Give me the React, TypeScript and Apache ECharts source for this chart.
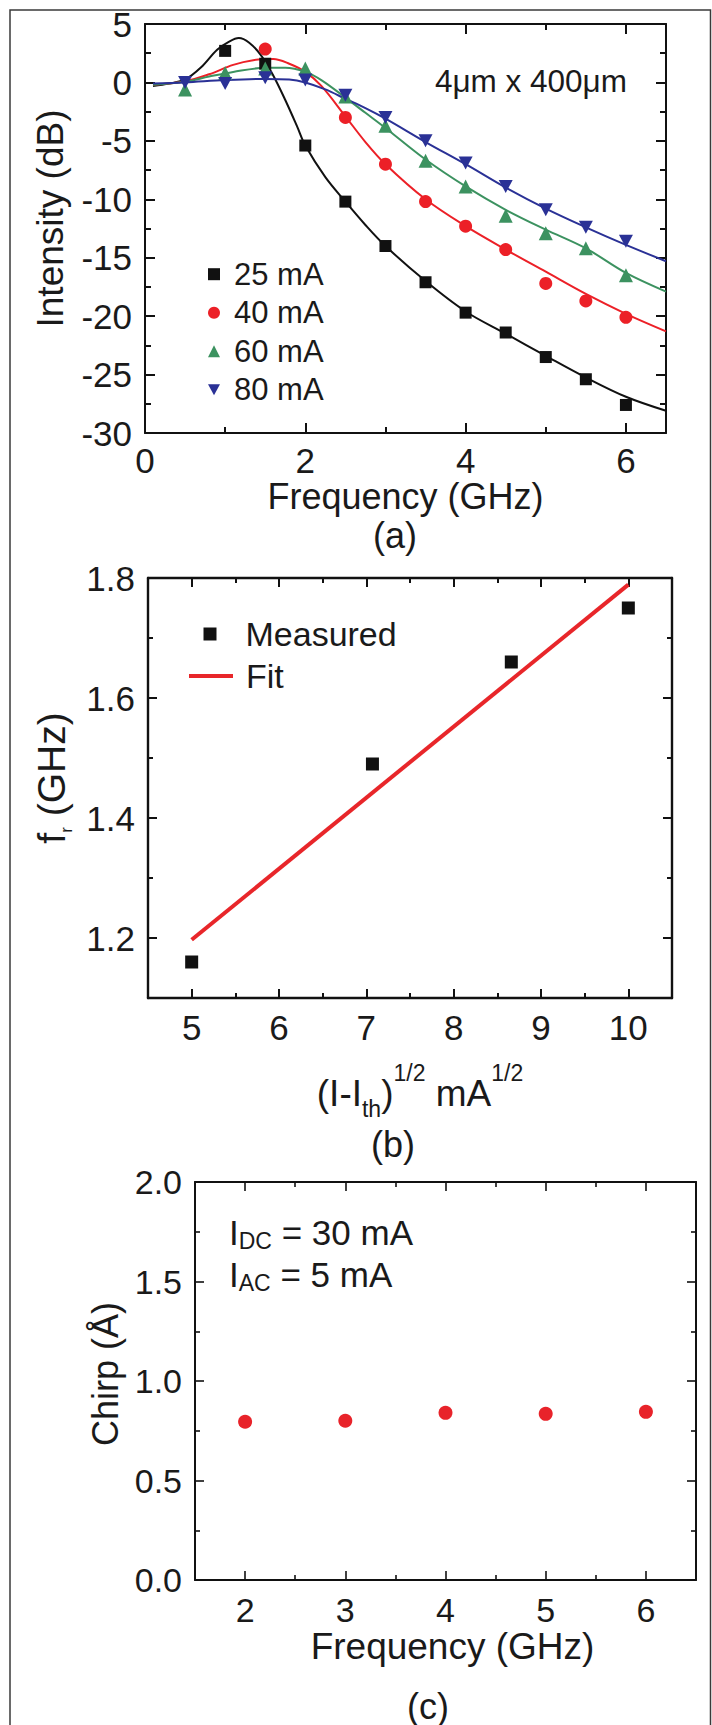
import React, { useEffect, useRef } from 'react';
import * as echarts from 'echarts';

// ---------- Panel (a): modulation response ----------
const A_X_MAJOR = [0, 2, 4, 6];
const A_X_MINOR = [1, 3, 5];
const A_Y_MAJOR = [-30, -25, -20, -15, -10, -5, 0, 5];
const A_Y_MINOR = [-27.5, -22.5, -17.5, -12.5, -7.5, -2.5, 2.5];

const A_NAMES = ['25 mA', '40 mA', '60 mA', '80 mA'];
const A_COLORS = ['#111111', '#ec2027', '#3c9260', '#2a3196'];

const M25_X = [1, 1.5, 2, 2.5, 3, 3.5, 4, 4.5, 5, 5.5, 6];
const M25_Y = [2.7, 1.6, -5.4, -10.2, -14.0, -17.1, -19.7, -21.4, -23.5, -25.4, -27.6];
const M40_X = [1.5, 2.5, 3, 3.5, 4, 4.5, 5, 5.5, 6];
const M40_Y = [2.85, -3.0, -7.0, -10.2, -12.3, -14.3, -17.2, -18.7, -20.1];
const M60_X = [0.5, 1, 1.5, 2, 2.5, 3, 3.5, 4, 4.5, 5, 5.5, 6];
const M60_Y = [-0.6, 0.8, 1.2, 1.2, -1.2, -3.7, -6.7, -8.9, -11.4, -12.9, -14.2, -16.5];
const M80_X = [0.5, 1, 1.5, 2, 2.5, 3, 3.5, 4, 4.5, 5, 5.5, 6];
const M80_Y = [0.0, -0.1, 0.4, 0.2, -1.1, -3.0, -5.0, -6.9, -8.9, -10.9, -12.4, -13.6];

const F25_X = [0.1, 0.3, 0.5, 0.7, 0.9, 1.05, 1.17, 1.3, 1.45, 1.6, 1.75, 1.9, 2.0, 2.25, 2.5, 2.75, 3.0, 3.5, 4.0, 4.5, 5.0, 5.5, 6.0, 6.5];
const F25_Y = [-0.3, -0.1, 0.25, 1.3, 2.8, 3.5, 3.8, 3.4, 2.3, 0.6, -1.5, -3.8, -5.4, -8.1, -10.2, -12.2, -14.0, -17.0, -19.6, -21.5, -23.4, -25.25, -26.9, -28.1];
const F40_X = [0.1, 0.5, 0.8, 1.1, 1.35, 1.6, 1.8, 2.0, 2.2, 2.5, 2.75, 3.0, 3.5, 4.0, 4.5, 5.0, 5.5, 6.0, 6.5];
const F40_Y = [-0.2, 0.1, 0.7, 1.5, 1.9, 2.0, 1.6, 0.9, -0.3, -2.9, -5.1, -7.0, -10.0, -12.3, -14.3, -16.2, -18.1, -19.8, -21.3];
const F60_X = [0.1, 0.5, 0.8, 1.1, 1.5, 1.75, 2.0, 2.2, 2.5, 2.75, 3.0, 3.5, 4.0, 4.5, 5.0, 5.5, 6.0, 6.5];
const F60_Y = [-0.2, 0.05, 0.5, 0.9, 1.25, 1.25, 0.9, 0.2, -1.3, -2.6, -3.9, -6.6, -8.9, -10.9, -12.6, -14.2, -16.3, -17.9];
const F80_X = [0.1, 0.5, 1.0, 1.5, 1.8, 2.0, 2.25, 2.5, 2.75, 3.0, 3.5, 4.0, 4.5, 5.0, 5.5, 6.0, 6.5];
const F80_Y = [-0.1, 0.0, 0.2, 0.3, 0.25, 0.0, -0.6, -1.4, -2.2, -3.1, -5.1, -7.0, -9.0, -10.8, -12.4, -13.9, -15.3];

// ---------- Panel (b): resonance frequency ----------
const B_X_MAJOR = [5, 6, 7, 8, 9, 10];
const B_X_MINOR = [5.5, 6.5, 7.5, 8.5, 9.5];
const B_Y_MAJOR = [1.2, 1.4, 1.6, 1.8];
const B_Y_MINOR = [1.1, 1.3, 1.5, 1.7];
const B_MEAS_X = [5, 7.07, 8.66, 10];
const B_MEAS_Y = [1.16, 1.49, 1.66, 1.75];
const B_FIT_X = [5, 10];
const B_FIT_Y = [1.197, 1.789];

// ---------- Panel (c): chirp ----------
const C_X_MAJOR = [2, 3, 4, 5, 6];
const C_X_MINOR = [2.5, 3.5, 4.5, 5.5];
const C_Y_MAJOR = [0, 0.5, 1.0, 1.5, 2.0];
const C_Y_MINOR = [0.25, 0.75, 1.25, 1.75];
const C_X = [2, 3, 4, 5, 6];
const C_Y = [0.795, 0.80, 0.84, 0.835, 0.845];

const FONT = "'Liberation Sans', Arial, Helvetica, sans-serif";
const INK = '#1a1a1a';

const zip = (xs: number[], ys: number[]) => xs.map((x, i) => [x, ys[i]]);

type AxOpts = {
  lw: number; tw: number; tick: number; minorTick: number; margin: number; fs: number;
  fmt: (v: number) => string; name?: any;
};

function makeAxes(dim: 'x' | 'y', grid: number, min: number, max: number, major: number[], minor: number[], o: AxOpts) {
  const pos = dim === 'x' ? ['bottom', 'top'] : ['left', 'right'];
  const lineStyle = { color: '#111', width: o.lw };
  const tickStyle = { color: '#111', width: o.tw };
  const base: any = { type: 'value', gridIndex: grid, min, max, splitLine: { show: false } };
  return [
    {
      ...base, position: pos[0],
      axisLine: { show: true, onZero: false, lineStyle },
      axisTick: { show: true, inside: true, length: o.tick, customValues: major, lineStyle: tickStyle },
      axisLabel: {
        show: true, customValues: major, margin: o.margin, fontSize: o.fs, lineHeight: 30,
        fontFamily: FONT, color: INK, formatter: o.fmt,
      },
      ...(o.name || {}),
    },
    {
      ...base, position: pos[0],
      axisLine: { show: false, onZero: false },
      axisTick: { show: true, inside: true, length: o.minorTick, customValues: minor, lineStyle: tickStyle },
      axisLabel: { show: false, customValues: minor },
    },
    {
      ...base, position: pos[1],
      axisLine: { show: true, onZero: false, lineStyle },
      axisTick: { show: true, inside: true, length: o.tick, customValues: major, lineStyle: tickStyle },
      axisLabel: { show: false, customValues: major },
    },
    {
      ...base, position: pos[1],
      axisLine: { show: false, onZero: false },
      axisTick: { show: true, inside: true, length: o.minorTick, customValues: minor, lineStyle: tickStyle },
      axisLabel: { show: false, customValues: minor },
    },
  ];
}

const DOWN_TRI = 'path://M0,0L12,0L6,11Z';

function buildOption(): any {
  const intFmt = (v: number) => String(Math.round(v));
  const oneDec = (v: number) => v.toFixed(1);

  const xAxis = [
    ...makeAxes('x', 0, 0, 6.5, A_X_MAJOR, A_X_MINOR, {
      lw: 2, tw: 2, tick: 10, minorTick: 6, margin: 12, fs: 35, fmt: intFmt,
      name: { name: 'Frequency (GHz)', nameLocation: 'middle', nameGap: 42, nameTextStyle: { fontSize: 36, fontFamily: FONT, color: INK, lineHeight: 30 } },
    }),
    ...makeAxes('x', 1, 4.5, 10.5, B_X_MAJOR, B_X_MINOR, {
      lw: 2.4, tw: 2, tick: 9, minorTick: 5, margin: 14, fs: 35, fmt: intFmt,
      name: {
        name: '{n|(I-I}{sub|th}{n|)}{sup|1/2}{n| mA}{sup|1/2}', nameLocation: 'middle', nameGap: 63,
        nameTextStyle: {
          padding: [0, 0, 0, 20],
          rich: {
            n: { fontSize: 37, fontFamily: FONT, color: INK, lineHeight: 64 },
            sub: { fontSize: 23, fontFamily: FONT, color: INK, lineHeight: 23, verticalAlign: 'bottom', padding: [0, 0, 5, 0] },
            sup: { fontSize: 23, fontFamily: FONT, color: INK, lineHeight: 23, verticalAlign: 'top' },
          },
        },
      },
    }),
    ...makeAxes('x', 2, 1.5, 6.5, C_X_MAJOR, C_X_MINOR, {
      lw: 2, tw: 1.6, tick: 9, minorTick: 5, margin: 15, fs: 34, fmt: intFmt,
      name: { name: 'Frequency (GHz)', nameLocation: 'middle', nameGap: 49, nameTextStyle: { fontSize: 37, fontFamily: FONT, color: INK, lineHeight: 30, padding: [0, 0, 0, 14] } },
    }),
  ];

  const yAxis = [
    ...makeAxes('y', 0, -30, 5, A_Y_MAJOR, A_Y_MINOR, {
      lw: 2, tw: 2, tick: 10, minorTick: 6, margin: 13, fs: 35, fmt: intFmt,
      name: { name: 'Intensity (dB)', nameLocation: 'middle', nameGap: 77, nameTextStyle: { fontSize: 37, fontFamily: FONT, color: INK, lineHeight: 36, padding: [0, 0, 0, 20] } },
    }),
    ...makeAxes('y', 1, 1.1, 1.8, B_Y_MAJOR, B_Y_MINOR, {
      lw: 2.4, tw: 2, tick: 9, minorTick: 5, margin: 13, fs: 35, fmt: oneDec,
      name: {
        name: '{n|f}{sub|r}{n| (GHz)}', nameLocation: 'middle', nameGap: 69,
        nameTextStyle: {
          padding: [0, 0, 0, 20],
          rich: {
            n: { fontSize: 39, fontFamily: FONT, color: INK, lineHeight: 48 },
            sub: { fontSize: 17, fontFamily: FONT, color: INK, lineHeight: 17, verticalAlign: 'bottom' },
          },
        },
      },
    }),
    ...makeAxes('y', 2, 0, 2, C_Y_MAJOR, C_Y_MINOR, {
      lw: 2, tw: 1.6, tick: 9, minorTick: 5, margin: 13, fs: 34, fmt: oneDec,
      name: { name: 'Chirp (Å)', nameLocation: 'middle', nameGap: 70, nameTextStyle: { fontSize: 36, fontFamily: FONT, color: INK, lineHeight: 36, padding: [0, 0, 0, 14] } },
    }),
  ];

  const aMarkers = [
    { name: A_NAMES[0], data: zip(M25_X, M25_Y), symbol: 'rect', symbolSize: 12 },
    { name: A_NAMES[1], data: zip(M40_X, M40_Y), symbol: 'circle', symbolSize: 13 },
    { name: A_NAMES[2], data: zip(M60_X, M60_Y), symbol: 'triangle', symbolSize: 14 },
    { name: A_NAMES[3], data: zip(M80_X, M80_Y), symbol: DOWN_TRI, symbolSize: [14, 13] },
  ];
  const aFits = [zip(F25_X, F25_Y), zip(F40_X, F40_Y), zip(F60_X, F60_Y), zip(F80_X, F80_Y)];

  const series: any[] = [];
  aFits.forEach((d, i) => {
    series.push({
      type: 'line', name: 'fit ' + A_NAMES[i], xAxisIndex: 0, yAxisIndex: 0, data: d,
      smooth: 0.35, showSymbol: false, symbol: 'none', z: 2,
      lineStyle: { color: A_COLORS[i], width: 2 }, itemStyle: { color: A_COLORS[i] },
    });
  });
  aMarkers.forEach((m, i) => {
    series.push({
      type: 'scatter', name: m.name, xAxisIndex: 0, yAxisIndex: 0, data: m.data,
      symbol: m.symbol, symbolSize: m.symbolSize, z: 3,
      itemStyle: { color: A_COLORS[i], opacity: 1 },
    });
  });
  series.push({
    type: 'line', name: 'Fit', xAxisIndex: 4, yAxisIndex: 4, data: zip(B_FIT_X, B_FIT_Y),
    showSymbol: false, symbol: 'none', color: '#e8262a',
    lineStyle: { color: '#e8262a', width: 4 }, itemStyle: { color: '#e8262a' }, z: 2,
  });
  series.push({
    type: 'scatter', name: 'Measured', xAxisIndex: 4, yAxisIndex: 4, data: zip(B_MEAS_X, B_MEAS_Y),
    symbol: 'rect', symbolSize: 13, itemStyle: { color: '#111111', opacity: 1 }, z: 3,
  });
  series.push({
    type: 'scatter', name: 'Chirp', xAxisIndex: 8, yAxisIndex: 8, data: zip(C_X, C_Y),
    symbol: 'circle', symbolSize: 14, itemStyle: { color: '#e8232a', opacity: 1 }, z: 3,
  });

  const legendText = (fs: number, pad: number) => ({
    fontSize: fs, fontFamily: FONT, color: INK, lineHeight: fs, padding: [0, 0, 0, pad],
  });

  const legend = [
    {
      orient: 'vertical', left: 208, top: 258.7, padding: 0, itemGap: 7.5,
      itemWidth: 12, itemHeight: 12, selectedMode: false,
      data: [
        { name: A_NAMES[0], icon: 'rect' },
        { name: A_NAMES[1], icon: 'circle' },
        { name: A_NAMES[2], icon: 'triangle' },
        { name: A_NAMES[3], icon: DOWN_TRI },
      ],
      textStyle: legendText(31, 9),
    },
    {
      orient: 'vertical', left: 203.5, top: 617, padding: 0, itemWidth: 13, itemHeight: 13, selectedMode: false,
      data: [{ name: 'Measured', icon: 'rect' }],
      textStyle: legendText(34, 24),
    },
    {
      orient: 'vertical', left: 189, top: 659, padding: 0, itemWidth: 44, itemHeight: 4, selectedMode: false,
      data: [{ name: 'Fit', icon: 'rect' }],
      textStyle: legendText(34, 8),
    },
  ];

  const txt = (x: number, y: number, text: string, fs: number, align = 'center') => ({
    type: 'text', x, y, z: 10,
    style: {
      text, fill: INK, font: `${fs}px ${FONT}`,
      align, textAlign: align, verticalAlign: 'middle', textVerticalAlign: 'middle',
    },
  });

  const richI = (x: number, yTop: number, sub: string, rest: string) => ({
    type: 'text', x, y: yTop, z: 10,
    style: {
      text: `{n|I}{s|${sub}}{n|${rest}}`,
      align: 'left', textAlign: 'left', verticalAlign: 'top', textVerticalAlign: 'top',
      rich: {
        n: { fontSize: 35, fontFamily: FONT, fill: INK, color: INK, lineHeight: 40 },
        s: { fontSize: 23, fontFamily: FONT, fill: INK, color: INK, lineHeight: 22, verticalAlign: 'bottom' },
      },
    },
  });

  const graphic = [
    {
      type: 'polyline', z: 1,
      shape: { points: [[10, 1725], [10, 10], [710.5, 10], [710.5, 1725]] },
      style: { stroke: '#3a3a3a', lineWidth: 1.5, fill: null },
    },
    txt(627, 81, '4μm x 400μm', 31.5, 'right'),
    txt(395, 535, '(a)', 36),
    txt(393, 1144, '(b)', 36),
    txt(428, 1706, '(c)', 36),
    richI(229, 1212.5, 'DC', ' = 30 mA'),
    richI(229, 1254, 'AC', ' = 5 mA'),
  ];

  return {
    animation: false,
    backgroundColor: '#ffffff',
    grid: [
      { left: 145, top: 24, width: 521, height: 409 },
      { left: 148, top: 578, width: 524, height: 420 },
      { left: 195, top: 1182, width: 501, height: 398 },
    ],
    xAxis,
    yAxis,
    legend,
    series,
    graphic,
  };
}

export default function App() {
  const ref = useRef<HTMLDivElement>(null);
  useEffect(() => {
    document.body.style.margin = '0';
    if (!ref.current) return;
    const chart = echarts.init(ref.current, undefined, { renderer: 'svg' });
    chart.setOption(buildOption());
    return () => chart.dispose();
  }, []);
  return (
    <div
      ref={ref}
      style={{ position: 'absolute', left: 0, top: 0, width: 712, height: 1725, background: '#fff' }}
    />
  );
}
